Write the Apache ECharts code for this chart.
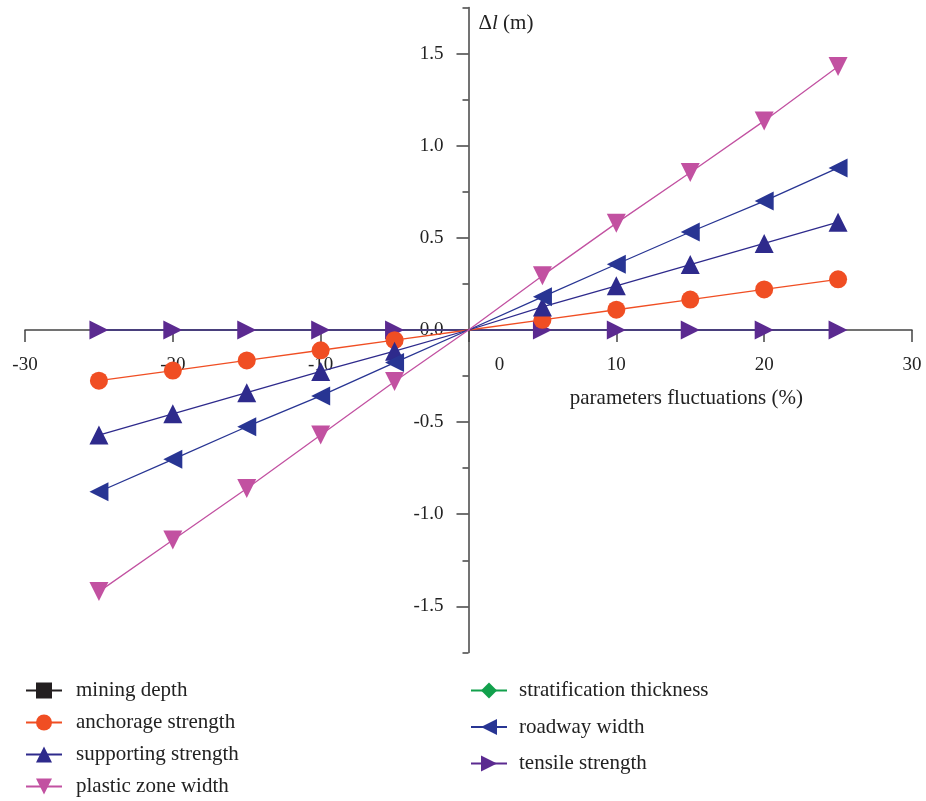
<!DOCTYPE html>
<html>
<head>
<meta charset="utf-8">
<script src="https://cdn.jsdelivr.net/npm/echarts@6/dist/echarts.min.js"></script>
<style>html,body{margin:0;padding:0;background:#fff}#c{width:926px;height:801px}</style>
</head>
<body>
<div id="c"></div>
<script>
var xValues = [-25, -20, -15, -10, -5, 0, 5, 10, 15, 20, 25];
var miningDepth = [0, 0, 0, 0, 0, 0, 0, 0, 0, 0, 0];
var anchorageStrength = [-0.275, -0.22, -0.165, -0.11, -0.055, 0, 0.055, 0.11, 0.165, 0.22, 0.275];
var supportingStrength = [-0.57, -0.455, -0.34, -0.225, -0.115, 0, 0.125, 0.24, 0.355, 0.47, 0.585];
var plasticZoneWidth = [-1.42, -1.14, -0.86, -0.57, -0.28, 0, 0.295, 0.58, 0.855, 1.135, 1.43];
var stratificationThickness = [0, 0, 0, 0, 0, 0, 0, 0, 0, 0, 0];
var roadwayWidth = [-0.878, -0.702, -0.525, -0.358, -0.177, 0, 0.18, 0.357, 0.532, 0.70, 0.88];
var tensileStrength = [0, 0, 0, 0, 0, 0, 0, 0, 0, 0, 0];
var xTicks = [-30, -20, -10, 0, 10, 20, 30];
var yMajorTicks = [-1.5, -1.0, -0.5, 0, 0.5, 1.0, 1.5];

var FONT = 'Liberation Serif';
var GRID = { left: 25, right: 14, top: 7.6, bottom: 148.6 };
var W = 926, H = 801;
// axis crossing offsets (x = 0 / y = 0 inside the grid)
var plotW = W - GRID.left - GRID.right, plotH = H - GRID.top - GRID.bottom;
var xAxisOffset = -plotH / 2;
var yAxisOffset = -plotW / 2;

function pts(arr) {
  return xValues.map(function (x, i) {
    var p = { value: [x, arr[i]] };
    if (x === 0) p.symbol = 'none';
    return p;
  });
}
function mk(name, arr, color, symbol, rotate, size, z) {
  return {
    name: name, type: 'line', data: pts(arr),
    symbol: symbol, symbolRotate: rotate, symbolSize: size,
    z: z,
    lineStyle: { color: color, width: 1.3 },
    itemStyle: { color: color },
    emphasis: { disabled: true },
    animation: false
  };
}
var chart = echarts.init(document.getElementById('c'));
var axisLineStyle = { color: '#444', width: 1.5 };
chart.setOption({
  animation: false,
  textStyle: { fontFamily: FONT },
  grid: { left: GRID.left, right: GRID.right, top: GRID.top, bottom: GRID.bottom, containLabel: false, outerBoundsMode: 'none' },
  xAxis: {
    type: 'value', min: -30, max: 30, interval: 10,
    position: 'bottom', offset: xAxisOffset,
    axisLine: { onZero: false, lineStyle: axisLineStyle },
    axisTick: { show: true, length: 12, inside: false, lineStyle: axisLineStyle },
    splitLine: { show: false },
    axisLabel: {
      margin: 26, color: '#222', fontSize: 19, fontFamily: FONT,
      formatter: function (v) { return v === 0 ? '{z|0}' : String(v); },
      rich: { z: { fontSize: 19, fontFamily: FONT, color: '#222', padding: [0, 0, 0, 62] } }
    },
    name: 'parameters fluctuations (%)',
    nameLocation: 'end', nameGap: -109,
    nameTextStyle: { fontSize: 21, fontFamily: FONT, color: '#222', align: 'right', verticalAlign: 'top', padding: [58, 0, 0, 0] }
  },
  yAxis: [{
    type: 'value', min: -1.75, max: 1.75, interval: 0.25,
    position: 'left', offset: yAxisOffset,
    axisLine: { onZero: false, lineStyle: axisLineStyle },
    axisTick: { show: true, length: 12, customValues: yMajorTicks, lineStyle: axisLineStyle },
    splitLine: { show: false },
    axisLabel: {
      margin: 25, color: '#222', fontSize: 19, fontFamily: FONT,
      customValues: yMajorTicks,
      formatter: function (v) { return v.toFixed(1); }
    },
    name: '{d|Δ}{i|l}{d| (m)}',
    nameLocation: 'end', nameGap: -26,
    nameTextStyle: {
      align: 'left', padding: [0, 0, 0, 10],
      rich: {
        d: { fontSize: 21, fontFamily: FONT, color: '#222' },
        i: { fontSize: 21, fontFamily: FONT, fontStyle: 'italic', color: '#222' }
      }
    }
  }, {
    type: 'value', min: -1.75, max: 1.75, interval: 0.25,
    position: 'left', offset: yAxisOffset,
    axisLine: { show: false, onZero: false },
    axisTick: { show: true, length: 6, lineStyle: axisLineStyle },
    axisLabel: { show: false },
    splitLine: { show: false }
  }],
  legend: [{
    left: 25, top: 680, height: 121, padding: 0, orient: 'vertical', itemWidth: 36, itemHeight: 20, itemGap: 11,
    data: ['mining depth', 'anchorage strength', 'supporting strength', 'plastic zone width'],
    textStyle: { fontSize: 21, fontFamily: FONT, color: '#222', padding: [0, 0, 0, 9] }
  }, {
    left: 470, top: 680, height: 121, padding: 0, orient: 'vertical', itemWidth: 36, itemHeight: 20, itemGap: 15.5,
    data: ['stratification thickness', 'roadway width', 'tensile strength'],
    textStyle: { fontSize: 21, fontFamily: FONT, color: '#222', padding: [0, 0, 0, 7] }
  }],
  series: [
    mk('mining depth', miningDepth, '#231f20', 'rect', 0, 5, 1),
    mk('stratification thickness', stratificationThickness, '#12a04c', 'diamond', 0, 5, 1),
    mk('tensile strength', tensileStrength, '#5b2a90', 'triangle', -90, 19, 3),
    mk('anchorage strength', anchorageStrength, '#f04e23', 'circle', 0, 18, 4),
    mk('supporting strength', supportingStrength, '#2e2a8c', 'triangle', 0, 19, 4),
    mk('roadway width', roadwayWidth, '#283593', 'triangle', 90, 19, 4),
    mk('plastic zone width', plasticZoneWidth, '#c251a1', 'triangle', 180, 19, 4)
  ]
});
</script>
</body>
</html>
